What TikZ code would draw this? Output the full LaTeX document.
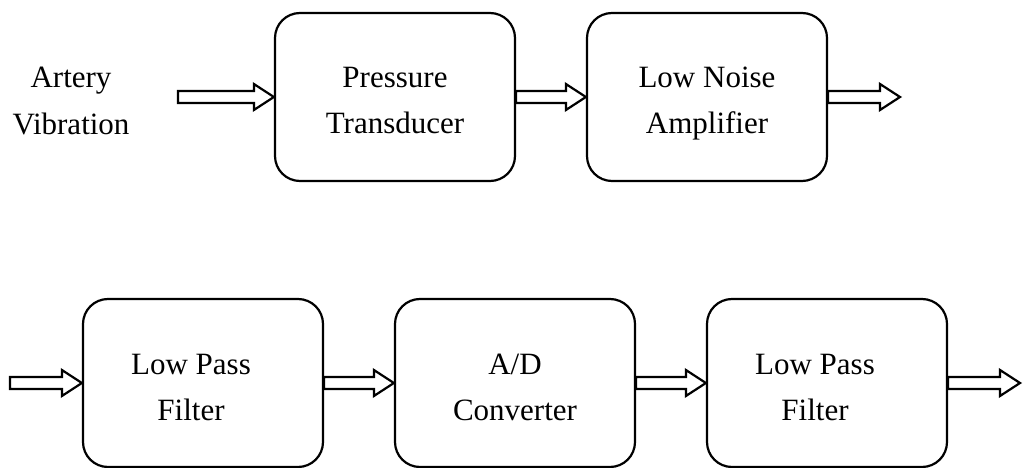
\documentclass[tikz,border=0pt]{standalone}
\usepackage{fontspec}
\setmainfont{Liberation Serif}
\usetikzlibrary{calc}
\newcommand\ltop{\rule{0pt}{33pt}}
\newcommand\lbot{\rule[-5pt]{0pt}{0pt}}
\newcommand\padr{\rule{24pt}{0pt}}
\tikzset{
  blk/.style={draw=black, line width=2.2pt, rounded corners=25pt,
    minimum width=240pt, minimum height=168pt, inner sep=0pt,
    align=center, font=\fontsize{31}{46}\selectfont},
  lbl/.style={align=center, inner sep=0pt, font=\fontsize{31}{47}\selectfont},
  barrow/.style={draw=black, line width=2.2pt, fill=white, line join=miter}
}
\newcommand\blockarrow[2]{%
  \draw[barrow] ($(#1)+(0,-6)$) -- ($(#2)+(-20,-6)$) -- ($(#2)+(-20,-13)$) --
    (#2) -- ($(#2)+(-20,13)$) -- ($(#2)+(-20,6)$) -- ($(#1)+(0,6)$) -- cycle;}
\begin{document}
\begin{tikzpicture}[x=1pt, y=-1pt]
\useasboundingbox (0,0) rectangle (1023,468);
% top row
\node[lbl] (src) at (71,101) {Artery\\Vibration};
\node[blk] (pt) at (395,97) {\ltop Pressure\\Transducer\lbot};
\node[blk] (lna) at (707,97) {\ltop Low Noise\\Amplifier\lbot};
\coordinate (a0) at (178,97);
\coordinate (out1) at (900,97);
\blockarrow{a0}{pt.west}
\blockarrow{pt.east}{lna.west}
\blockarrow{lna.east}{out1}
% bottom row
\node[blk] (lpf1) at (203,383) {\ltop Low Pass\padr\\Filter\padr\lbot};
\node[blk] (adc) at (515,383) {\ltop A/D\\Converter\lbot};
\node[blk] (lpf2) at (827,383) {\ltop Low Pass\padr\\Filter\padr\lbot};
\coordinate (in2) at (10,383);
\coordinate (out2) at (1020,383);
\blockarrow{in2}{lpf1.west}
\blockarrow{lpf1.east}{adc.west}
\blockarrow{adc.east}{lpf2.west}
\blockarrow{lpf2.east}{out2}
\end{tikzpicture}
\end{document}
